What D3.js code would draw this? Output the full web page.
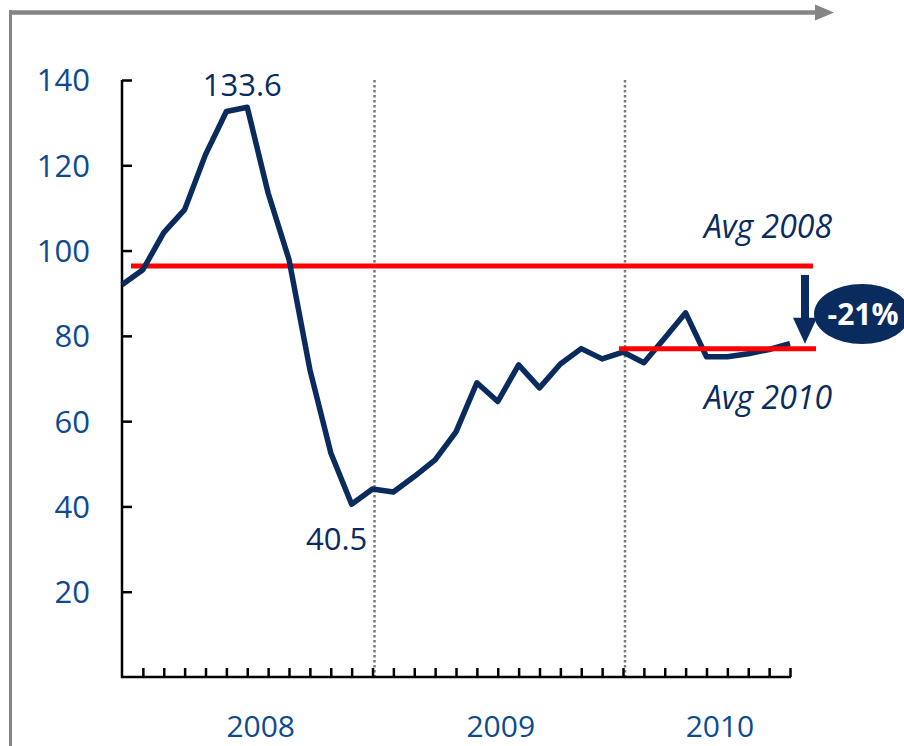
<!DOCTYPE html>
<html>
<head>
<meta charset="utf-8">
<script src="https://cdn.jsdelivr.net/npm/d3@7"></script>
<style>
  html, body { margin: 0; padding: 0; background: #ffffff; }
  svg { display: block; }
</style>
</head>
<body>
<svg id="chart" width="904" height="746"></svg>
<script>
// ---- data ----
// monthly index values, Dec 2007 .. Aug 2010 (33 points)
const values = [92.0, 95.5, 104.2, 109.6, 122.5, 132.6, 133.6, 113.5, 97.9, 72.1, 52.6, 40.5,
                44.1, 43.4, 47.0, 50.9, 57.5, 69.0, 64.6, 73.2, 67.8, 73.4, 77.0, 74.6,
                76.2, 73.7, 79.5, 85.4, 75.1, 75.1, 75.8, 76.8, 78.2];
const yTicks = [20, 40, 60, 80, 100, 120, 140];
const years = ["2008", "2009", "2010"];
const yearFrom = [1, 12, 24];
const yearTo = [12, 24, 33];
const yearDividers = [12, 24];
const avgLabels = ["Avg 2008", "Avg 2010"];
const avgValues = [96.4, 77.0];
const changeLabel = "-21%";
const peakIndex = 6, troughIndex = 11;
const peakLabel = "133.6", troughLabel = "40.5";

// ---- drawing ----
const svg = d3.select("#chart");
const navy = "#0a2b5e";
const blue = "#0d4a91";
const red = "#ff0000";
const gray = "#858585";
const font = "'Open Sans', 'Noto Sans', sans-serif";

const x = d3.scaleLinear().domain([0, values.length - 1]).range([122, 790]);
const y = d3.scaleLinear().domain([0, 140]).range([677, 80]);

// outer frame with arrow
svg.append("line").attr("x1", 10.5).attr("x2", 10.5).attr("y1", 10).attr("y2", 746)
  .attr("stroke", gray).attr("stroke-width", 3);
svg.append("line").attr("x1", 9).attr("x2", 818).attr("y1", 12.5).attr("y2", 12.5)
  .attr("stroke", gray).attr("stroke-width", 4.5);
svg.append("path").attr("d", "M815,4.5 L834,12.5 L815,20.5 Z").attr("fill", gray);

// year dividers (dotted)
svg.selectAll("line.div").data(yearDividers).enter().append("line")
  .attr("class", "div")
  .attr("x1", d => x(d) + 2).attr("x2", d => x(d) + 2)
  .attr("y1", y(140)).attr("y2", y(0))
  .attr("stroke", "#7a7a7a").attr("stroke-width", 2.5).attr("stroke-dasharray", "2.5,2.5");

// y axis
const yAxis = d3.axisLeft(y).tickValues(yTicks).tickSize(-10).tickSizeOuter(0).tickPadding(32);
const gy = svg.append("g").attr("transform", `translate(${x(0)},0)`).call(yAxis);
gy.select(".domain").attr("stroke", "#000").attr("stroke-width", 2.5)
  .attr("d", `M0,${y(140)}V${y(0) + 1}`);
gy.selectAll(".tick line").attr("stroke", "#000").attr("stroke-width", 2.5);
gy.selectAll(".tick text").attr("fill", blue).style("font-family", font).style("font-size", "31px")
  .attr("dy", "0.35em");

// x axis
const xAxis = d3.axisBottom(x).tickValues(d3.range(1, values.length)).tickSize(-9)
  .tickSizeOuter(0).tickFormat("");
const gx = svg.append("g").attr("transform", `translate(0,${y(0)})`).call(xAxis);
gx.select(".domain").attr("stroke", "#000").attr("stroke-width", 2.5)
  .attr("d", `M${x(0) - 1},0H${x(values.length - 1) + 1}`);
gx.selectAll(".tick line").attr("stroke", "#000").attr("stroke-width", 2.5);

// year labels
svg.selectAll("text.year").data(years).enter().append("text")
  .attr("class", "year")
  .attr("x", (d, i) => x((yearFrom[i] + yearTo[i]) / 2) + 3)
  .attr("y", 737)
  .attr("text-anchor", "middle")
  .attr("fill", blue).style("font-family", font).style("font-size", "30px")
  .text(d => d);

// average lines
svg.append("line").attr("x1", x(0) + 9).attr("x2", 813)
  .attr("y1", y(avgValues[0])).attr("y2", y(avgValues[0]))
  .attr("stroke", red).attr("stroke-width", 5);

// data line
const line = d3.line().x((d, i) => x(i)).y(d => y(d));
svg.append("path").datum(values).attr("d", line)
  .attr("fill", "none").attr("stroke", navy).attr("stroke-width", 5.5)
  .attr("stroke-linejoin", "round").attr("stroke-linecap", "butt");

svg.append("line").attr("x1", 619).attr("x2", 816)
  .attr("y1", y(avgValues[1])).attr("y2", y(avgValues[1]))
  .attr("stroke", red).attr("stroke-width", 5);

// peak / trough labels
svg.append("text").attr("x", x(peakIndex) - 5).attr("y", 96)
  .attr("text-anchor", "middle").attr("fill", navy)
  .style("font-family", font).style("font-size", "31px").text(peakLabel);
svg.append("text").attr("x", x(troughIndex) - 15).attr("y", 550)
  .attr("text-anchor", "middle").attr("fill", navy)
  .style("font-family", font).style("font-size", "31px").text(troughLabel);

// average labels
svg.append("text").attr("x", 832).attr("y", 238).attr("text-anchor", "end")
  .attr("fill", navy).style("font-family", font).style("font-style", "italic")
  .style("font-size", "32px").text(avgLabels[0]);
svg.append("text").attr("x", 832).attr("y", 409).attr("text-anchor", "end")
  .attr("fill", navy).style("font-family", font).style("font-style", "italic")
  .style("font-size", "32px").text(avgLabels[1]);

// down arrow
const ax = 805;
svg.append("line").attr("x1", ax).attr("x2", ax)
  .attr("y1", y(avgValues[0]) + 9).attr("y2", y(avgValues[1]) - 24)
  .attr("stroke", navy).attr("stroke-width", 8);
svg.append("path")
  .attr("d", `M${ax - 12},${y(avgValues[1]) - 31} L${ax + 12},${y(avgValues[1]) - 31} L${ax},${y(avgValues[1]) - 5} Z`)
  .attr("fill", navy);

// badge
svg.append("ellipse").attr("cx", 862).attr("cy", 314).attr("rx", 48).attr("ry", 30).attr("fill", navy);
svg.append("text").attr("x", 863).attr("y", 325).attr("text-anchor", "middle")
  .attr("fill", "#ffffff").style("font-family", font).style("font-weight", "bold")
  .style("font-size", "30px").text(changeLabel);
</script>
</body>
</html>
